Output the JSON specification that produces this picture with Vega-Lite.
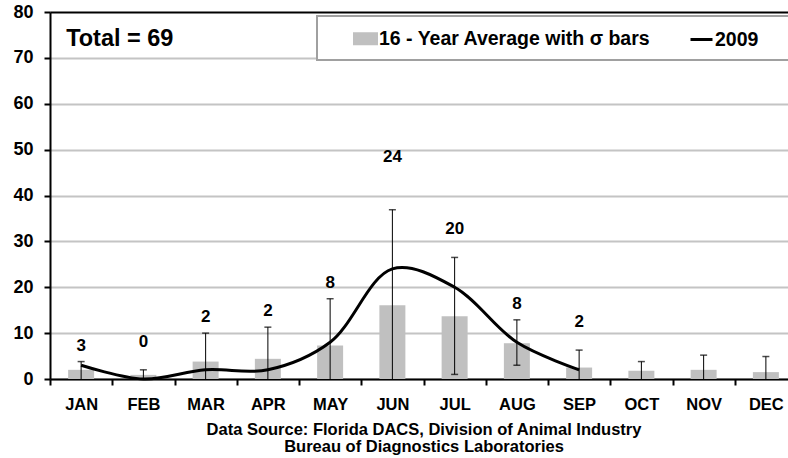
{
  "$schema": "https://vega.github.io/schema/vega-lite/v6.json",
  "width": 738,
  "height": 367,
  "autosize": "none",
  "padding": {"left": 50, "top": 12, "right": 0, "bottom": 79},
  "background": "white",
  "config": {"font": "Liberation Sans", "view": {"stroke": null}},
  "data": {
    "values": [
      {"month": "JAN", "avg": 2.0, "lower": 0, "upper": 3.8, "y2009": 3},
      {"month": "FEB", "avg": 0.9, "lower": 0, "upper": 2.0, "y2009": 0},
      {"month": "MAR", "avg": 3.8, "lower": 0, "upper": 10.0, "y2009": 2},
      {"month": "APR", "avg": 4.4, "lower": 0, "upper": 11.3, "y2009": 2},
      {"month": "MAY", "avg": 7.3, "lower": 0, "upper": 17.5, "y2009": 8},
      {"month": "JUN", "avg": 16.1, "lower": 0, "upper": 36.9, "y2009": 24},
      {"month": "JUL", "avg": 13.7, "lower": 1.0, "upper": 26.5, "y2009": 20},
      {"month": "AUG", "avg": 7.8, "lower": 3.0, "upper": 12.9, "y2009": 8},
      {"month": "SEP", "avg": 2.5, "lower": 0, "upper": 6.3, "y2009": 2},
      {"month": "OCT", "avg": 1.8, "lower": 0, "upper": 3.8, "y2009": null},
      {"month": "NOV", "avg": 2.0, "lower": 0, "upper": 5.2, "y2009": null},
      {"month": "DEC", "avg": 1.5, "lower": 0, "upper": 4.9, "y2009": null}
    ]
  },
  "encoding": {
    "x": {
      "field": "month",
      "type": "nominal",
      "sort": ["JAN", "FEB", "MAR", "APR", "MAY", "JUN", "JUL", "AUG", "SEP", "OCT", "NOV", "DEC"],
      "scale": {"range": [0, 747], "paddingInner": 0, "paddingOuter": 0},
      "axis": {
        "title": ["Data Source: Florida DACS, Division of Animal Industry", "Bureau of Diagnostics Laboratories"],
        "titleFontSize": 16.5,
        "titleFontWeight": "bold",
        "titleColor": "black",
        "titleLineHeight": 17,
        "titlePadding": 9,
        "labelFontSize": 16.5,
        "labelFontWeight": "bold",
        "labelColor": "black",
        "labelPadding": 11,
        "labelAngle": 0,
        "tickBand": "extent",
        "tickSize": 6,
        "tickWidth": 2,
        "tickColor": "black",
        "domainColor": "black",
        "domainWidth": 2
      }
    }
  },
  "layer": [
    {
      "mark": {"type": "bar", "size": 26},
      "encoding": {
        "y": {
          "field": "avg",
          "type": "quantitative",
          "scale": {"domain": [0, 80], "nice": false},
          "axis": {
            "title": null,
            "values": [0, 10, 20, 30, 40, 50, 60, 70, 80],
            "grid": true,
            "gridColor": {"condition": {"test": "datum.value === 80", "value": "black"}, "value": "#c4c4c4"},
            "gridWidth": 2,
            "domainColor": "black",
            "domainWidth": 2,
            "tickColor": "black",
            "tickWidth": 2,
            "tickSize": 6,
            "labelFontSize": 18,
            "labelFontWeight": "bold",
            "labelColor": "black",
            "labelPadding": 11
          }
        },
        "color": {
          "datum": "16 - Year Average with σ bars",
          "type": "nominal",
          "scale": {"domain": ["16 - Year Average with σ bars", "2009"], "range": ["#c0c0c0", "#000000"]},
          "legend": {
            "orient": "none",
            "legendX": 267,
            "legendY": 4,
            "direction": "horizontal",
            "title": "XX",
            "titleOrient": "right",
            "titleColor": "white",
            "titleFontSize": 19,
            "titlePadding": 0,
            "labelFontSize": 19.5,
            "labelFontWeight": "bold",
            "labelColor": "black",
            "labelLimit": 600,
            "padding": 10,
            "fillColor": "white",
            "strokeColor": "#a0a0a0",
            "symbolOffset": 26,
            "columnPadding": 12,
            "labelOffset": 1,
            "symbolSize": 484,
            "encode": {
              "legend": {"update": {"strokeWidth": {"value": 2}}},
              "symbols": {
                "update": {
                  "shape": {"signal": "datum.value === '2009' ? 'M-1,0H1' : 'M-1,-0.45H1V0.45H-1Z'"},
                  "fill": {"signal": "datum.value === '2009' ? 'transparent' : '#c0c0c0'"},
                  "stroke": {"signal": "datum.value === '2009' ? '#000000' : 'transparent'"},
                  "strokeWidth": {"value": 3},
                  "opacity": {"value": 1}
                }
              }
            }
          }
        }
      }
    },
    {
      "mark": {"type": "rule", "color": "black", "strokeWidth": 1},
      "encoding": {
        "y": {"field": "lower", "type": "quantitative", "axis": {"title": null}},
        "y2": {"field": "upper"}
      }
    },
    {
      "mark": {"type": "tick", "color": "black", "size": 7, "thickness": 1.5, "orient": "horizontal"},
      "encoding": {
        "y": {"field": "upper", "type": "quantitative", "axis": {"title": null}}
      }
    },
    {
      "transform": [{"filter": "datum.lower > 0"}],
      "mark": {"type": "tick", "color": "black", "size": 7, "thickness": 1.5, "orient": "horizontal"},
      "encoding": {
        "y": {"field": "lower", "type": "quantitative", "axis": {"title": null}}
      }
    },
    {
      "mark": {"type": "line", "interpolate": "catmull-rom", "strokeWidth": 3},
      "encoding": {
        "y": {"field": "y2009", "type": "quantitative", "axis": {"title": null}},
        "color": {"datum": "2009", "type": "nominal"}
      }
    },
    {
      "transform": [{"filter": "indexof(['JAN','MAR','APR','MAY','AUG'], datum.month) >= 0"}],
      "mark": {"type": "text", "dy": -16, "fontSize": 17, "fontWeight": "bold", "baseline": "middle", "color": "black"},
      "encoding": {
        "y": {"field": "upper", "type": "quantitative", "axis": {"title": null}},
        "text": {"field": "y2009", "type": "quantitative"}
      }
    },
    {
      "transform": [{"filter": "indexof(['FEB','JUL','SEP'], datum.month) >= 0"}],
      "mark": {"type": "text", "dy": -28, "fontSize": 17, "fontWeight": "bold", "baseline": "middle", "color": "black"},
      "encoding": {
        "y": {"field": "upper", "type": "quantitative", "axis": {"title": null}},
        "text": {"field": "y2009", "type": "quantitative"}
      }
    },
    {
      "transform": [{"filter": "datum.month === 'JUN'"}],
      "mark": {"type": "text", "dy": -53, "fontSize": 17, "fontWeight": "bold", "baseline": "middle", "color": "black"},
      "encoding": {
        "y": {"field": "upper", "type": "quantitative", "axis": {"title": null}},
        "text": {"field": "y2009", "type": "quantitative"}
      }
    },
    {
      "data": {"values": [{"t": "Total = 69"}]},
      "mark": {"type": "text", "align": "left", "baseline": "alphabetic", "dx": -15, "fontSize": 23.5, "fontWeight": "bold", "color": "black"},
      "encoding": {
        "x": {"datum": "JAN", "type": "nominal"},
        "y": {"datum": 72.5, "type": "quantitative"},
        "text": {"field": "t", "type": "nominal"}
      }
    }
  ]
}
